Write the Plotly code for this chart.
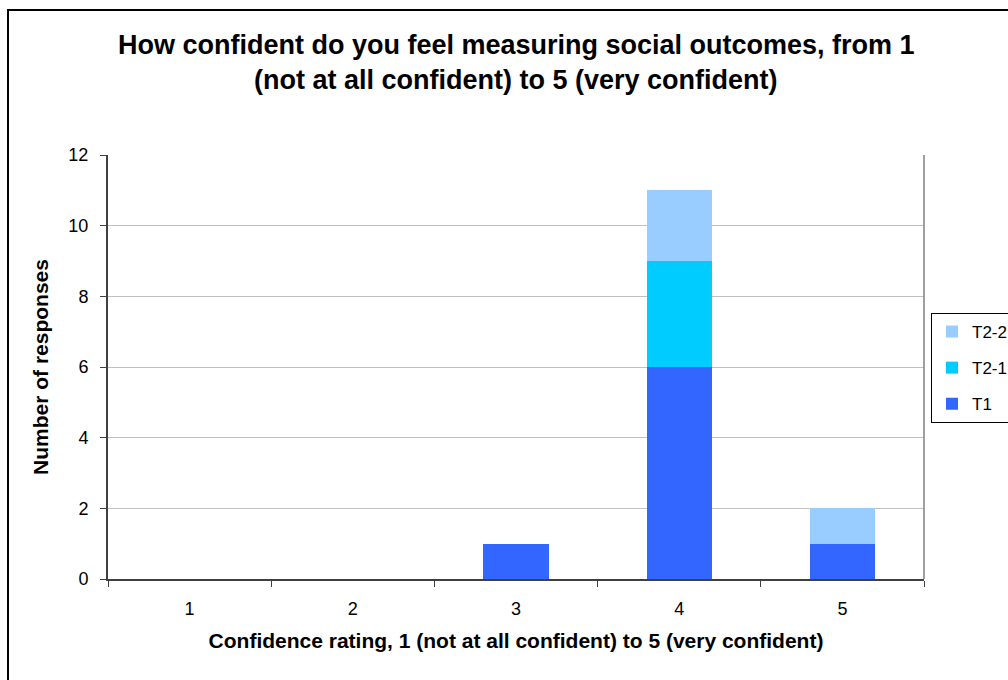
import plotly.graph_objects as go

categories = ["1", "2", "3", "4", "5"]
t1 = [0, 0, 1, 6, 1]
t2_1 = [0, 0, 0, 3, 0]
t2_2 = [0, 0, 0, 2, 1]
y_ticks = [0, 2, 4, 6, 8, 10, 12]

W, H = 1008, 680
L, R, T, B = 108, 924, 155, 579
pw, ph = R - L, B - T

def px(x):
    return (x - L) / pw

def py(y):
    return (B - y) / ph

FONT = "Liberation Sans, Arial, sans-serif"

fig = go.Figure()
fig.add_trace(go.Bar(x=categories, y=t1, name="T1", marker=dict(color="#3366FF", line=dict(width=0)),
                     legendgroup="a", legendrank=3))
fig.add_trace(go.Bar(x=categories, y=t2_1, name="T2-1", marker=dict(color="#00CCFF", line=dict(width=0)),
                     legendgroup="b", legendrank=2))
fig.add_trace(go.Bar(x=categories, y=t2_2, name="T2-2", marker=dict(color="#99CCFF", line=dict(width=0)),
                     legendgroup="c", legendrank=1))

fig.update_layout(
    width=W, height=H,
    barmode="stack", bargap=0.6,
    margin=dict(l=L, r=W - R, t=T, b=H - B, pad=0, autoexpand=False),
    paper_bgcolor="white", plot_bgcolor="white",
    font=dict(family=FONT, size=18, color="black"),
    showlegend=True,
    legend=dict(
        x=px(931), y=py(313), xanchor="left", yanchor="top",
        bordercolor="black", borderwidth=1, bgcolor="white",
        font=dict(family=FONT, size=17, color="black"),
        traceorder="grouped", tracegroupgap=11,
    ),
    xaxis=dict(
        type="category", showgrid=False, showline=True, linecolor="#404040", linewidth=2,
        ticks="outside", tickson="boundaries", ticklen=6, tickcolor="#404040", tickwidth=1,
        tickfont=dict(family=FONT, size=18), ticklabelstandoff=12, range=[-0.5, 4.5],
        title=dict(text="<b>Confidence rating, 1 (not at all confident) to 5 (very confident)</b>",
                   font=dict(family=FONT, size=21), standoff=16),
    ),
    yaxis=dict(
        range=[0, 12], tickvals=y_ticks, showgrid=True, gridcolor="#C0C0C0", gridwidth=1,
        showline=True, linecolor="#404040", linewidth=2, zeroline=False,
        ticks="outside", ticklen=6, tickcolor="#404040", tickwidth=1,
        tickfont=dict(family=FONT, size=18), ticklabelstandoff=8,
        title=dict(text="<b>Number of responses</b>", font=dict(family=FONT, size=21), standoff=14),
    ),
    shapes=[
        dict(type="line", xref="paper", yref="paper", x0=1, x1=1, y0=0, y1=1,
             line=dict(color="#808080", width=1.5)),
        dict(type="rect", xref="paper", yref="paper",
             x0=px(8), x1=px(1030), y0=py(700), y1=py(10),
             line=dict(color="black", width=2), fillcolor="rgba(0,0,0,0)", layer="below"),
    ],
    annotations=[
        dict(text="<b>How confident do you feel measuring social outcomes, from 1</b>",
             xref="paper", yref="paper", x=0.5, y=py(45), xanchor="center", yanchor="middle",
             showarrow=False, font=dict(family=FONT, size=27, color="black")),
        dict(text="<b>(not at all confident) to 5 (very confident)</b>",
             xref="paper", yref="paper", x=0.5, y=py(80), xanchor="center", yanchor="middle",
             showarrow=False, font=dict(family=FONT, size=27, color="black")),
    ],
)

fig.write_html("out.html")
